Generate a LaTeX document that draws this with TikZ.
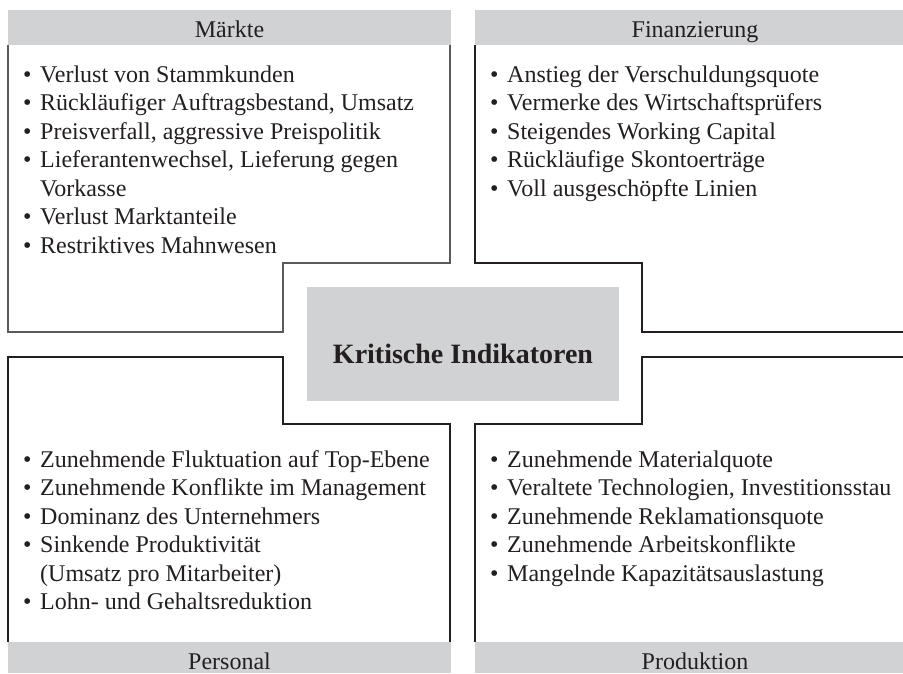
\documentclass[tikz,border=0pt]{standalone}
\usepackage{fontspec}
\setmainfont{Liberation Serif}
\definecolor{hdrgray}{HTML}{D1D2D4}
\definecolor{ink}{HTML}{231F20}
\definecolor{framegray}{HTML}{5A5A5A}
% bullet and hanging indent for the list lines
\newcommand\itembul{\makebox[17pt][l]{\textbullet}}
\newcommand\itemind{\hspace*{17pt}}

\begin{document}
\begin{tikzpicture}[x=1pt,y=-1pt,
  frame/.style={line width=1.5pt, draw=ink, line join=miter},
  frameA/.style={frame, draw=framegray},
  item/.style={anchor=base west, inner sep=0pt, text=ink, font=\fontsize{24}{28}\selectfont},
  hdrtxt/.style={anchor=base, inner sep=0pt, text=ink, font=\fontsize{24}{28}\selectfont},
  kibox/.style={fill=hdrgray, inner sep=0pt, minimum width=312pt, minimum height=114pt},
]
\useasboundingbox (0,0) rectangle (903,673);

% header and footer bars
\fill[hdrgray] (8,10) rectangle (451,45);
\fill[hdrgray] (475,10) rectangle (903,45);
\fill[hdrgray] (8,642) rectangle (451,673);
\fill[hdrgray] (475,642) rectangle (903,673);

\node[hdrtxt] (hMarkt) at (229.5,37) {Märkte};
\node[hdrtxt] (hFin)   at (695,37)   {Finanzierung};
\node[hdrtxt] (hPers)  at (229.5,669) {Personal};
\node[hdrtxt] (hProd)  at (695,669)  {Produktion};

% the four notched frames
\draw[frameA] (8,45) -- (8,332) -- (283,332) -- (283,263) -- (450,263) -- (450,45);
\draw[frame] (475,45) -- (475,263) -- (642,263) -- (642,332) -- (903,332);
\draw[frame] (8,642) -- (8,357) -- (283,357) -- (283,424) -- (450,424) -- (450,642);
\draw[frame] (903,357) -- (642,357) -- (642,424) -- (475,424) -- (475,642);

% centre box
\node[kibox] (ki) at (463,344) {};
\node[anchor=base, inner sep=0pt, text=ink, font=\fontsize{28}{32}\selectfont\bfseries] (kiTxt) at (463,363) {Kritische Indikatoren};

% Märkte
\foreach \t [count=\i] in {
  {\itembul Verlust von Stammkunden},
  {\itembul Rückläufiger Auftragsbestand, Umsatz},
  {\itembul Preisverfall, aggressive Preispolitik},
  {\itembul Lieferantenwechsel, Lieferung gegen},
  {\itemind Vorkasse},
  {\itembul Verlust Marktanteile},
  {\itembul Restriktives Mahnwesen}}
  \node[item] (mk\i) at (23,{82+(\i-1)*28.5}) {\t};

% Finanzierung
\foreach \t [count=\i] in {
  {\itembul Anstieg der Verschuldungsquote},
  {\itembul Vermerke des Wirtschaftsprüfers},
  {\itembul Steigendes Working Capital},
  {\itembul Rückläufige Skontoerträge},
  {\itembul Voll ausgeschöpfte Linien}}
  \node[item] (fi\i) at (490,{82+(\i-1)*28.5}) {\t};

% Personal
\foreach \t [count=\i] in {
  {\itembul Zunehmende Fluktuation auf Top-Ebene},
  {\itembul Zunehmende Konflikte im Management},
  {\itembul Dominanz des Unternehmers},
  {\itembul Sinkende Produktivität},
  {\itemind (Umsatz pro Mitarbeiter)},
  {\itembul Lohn- und Gehaltsreduktion}}
  \node[item] (pe\i) at (23,{467+(\i-1)*28.5}) {\t};

% Produktion
\foreach \t [count=\i] in {
  {\itembul Zunehmende Materialquote},
  {\itembul Veraltete Technologien, Investitionsstau},
  {\itembul Zunehmende Reklamationsquote},
  {\itembul Zunehmende Arbeitskonflikte},
  {\itembul Mangelnde Kapazitätsauslastung}}
  \node[item] (pr\i) at (490,{467+(\i-1)*28.5}) {\t};
\end{tikzpicture}
\end{document}
